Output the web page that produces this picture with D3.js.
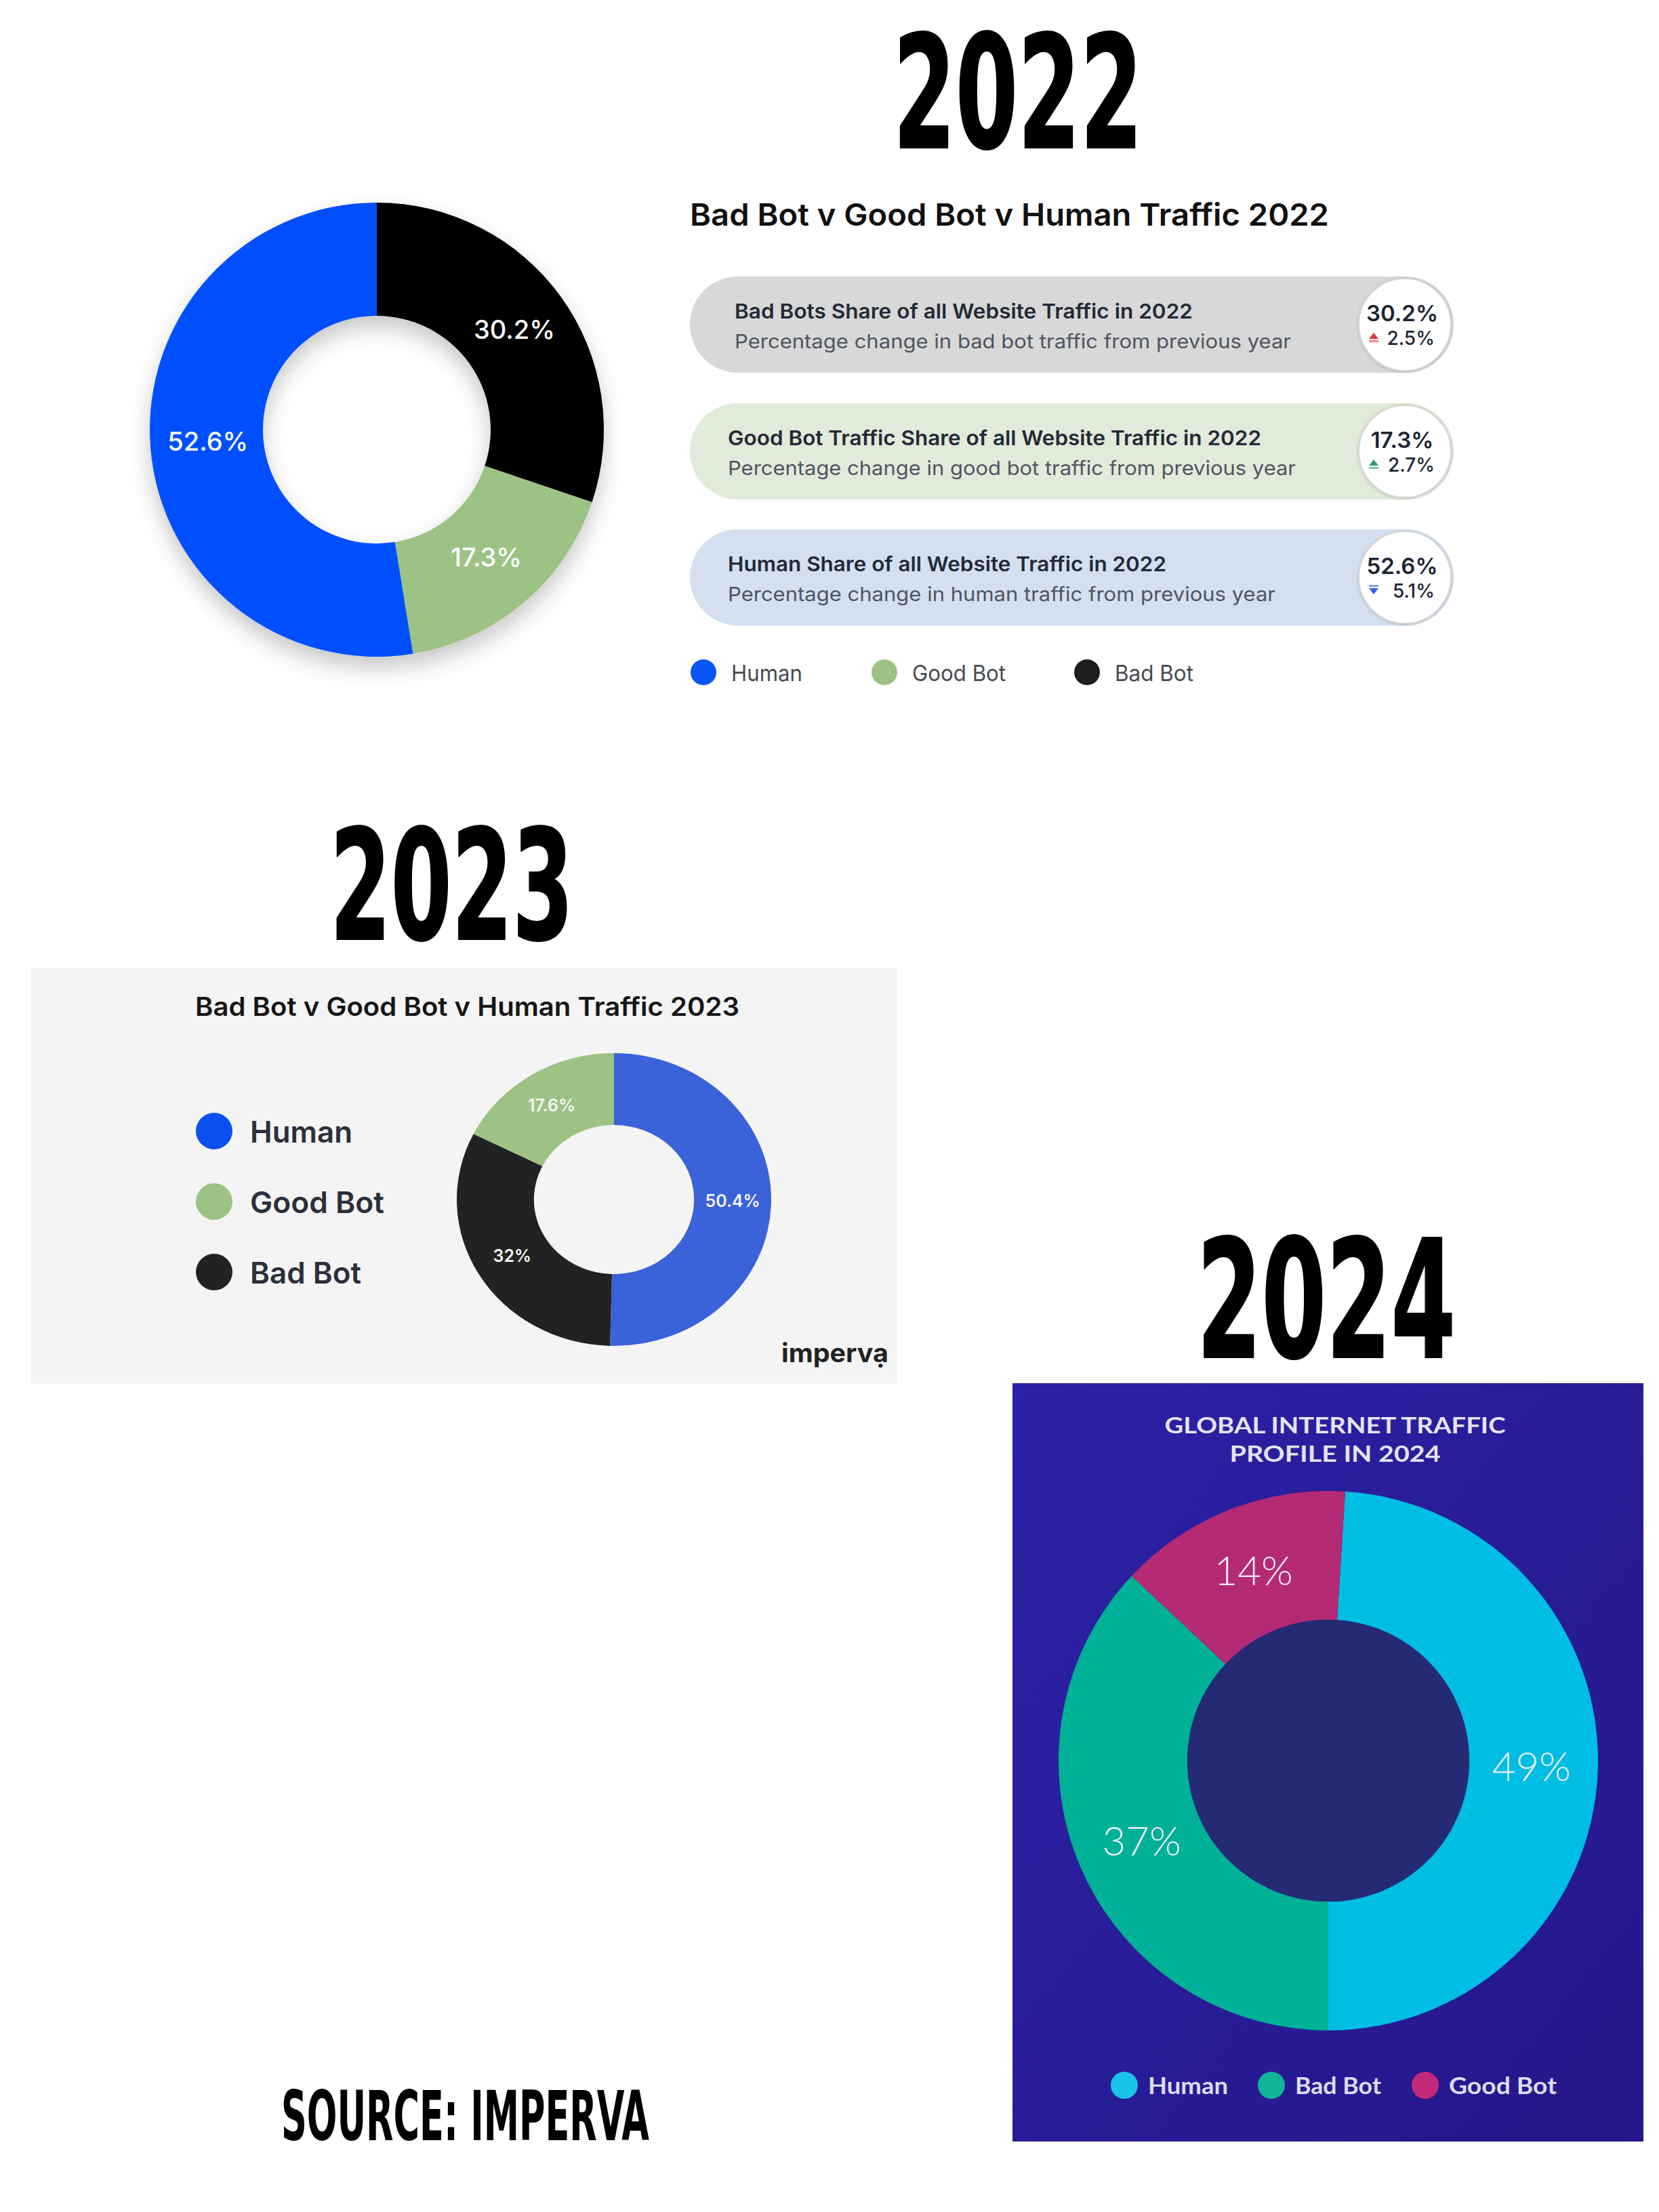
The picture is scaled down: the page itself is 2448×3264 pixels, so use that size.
<!DOCTYPE html>
<html>
<head>
<meta charset="utf-8">
<script src="https://cdn.jsdelivr.net/npm/d3@7"></script>
<style>
  html, body { margin: 0; padding: 0; background: #ffffff; }
  svg { display: block; }
</style>
</head>
<body>
<div id="chart"></div>
<script>
// ---------------- DATA ----------------
const years = ["2022", "2023", "2024"];

const categories2022 = ["Bad Bot", "Good Bot", "Human"];
const values2022 = [30.2, 17.3, 52.6];
const title2022 = "Bad Bot v Good Bot v Human Traffic 2022";
const legend2022 = ["Human", "Good Bot", "Bad Bot"];

const pillTitles2022 = [
  "Bad Bots Share of all Website Traffic in 2022",
  "Good Bot Traffic Share of all Website Traffic in 2022",
  "Human Share of all Website Traffic in 2022"
];
const pillSubtitles2022 = [
  "Percentage change in bad bot traffic from previous year",
  "Percentage change in good bot traffic from previous year",
  "Percentage change in human traffic from previous year"
];
const pillShares2022 = [30.2, 17.3, 52.6];
const pillChanges2022 = [2.5, 2.7, -5.1];

const categories2023 = ["Human", "Bad Bot", "Good Bot"];
const values2023 = [50.4, 32, 17.6];
const title2023 = "Bad Bot v Good Bot v Human Traffic 2023";
const legend2023 = ["Human", "Good Bot", "Bad Bot"];

const categories2024 = ["Human", "Bad Bot", "Good Bot"];
const values2024 = [49, 37, 14];
const title2024 = ["GLOBAL INTERNET TRAFFIC", "PROFILE IN 2024"];
const legend2024 = ["Human", "Bad Bot", "Good Bot"];

const sourceText = "SOURCE: IMPERVA";
const logoText = "impervạ";

// ---------------- STYLE ----------------
const W = 2448, H = 3264;
const colors2022 = { "Human": "#0050ff", "Good Bot": "#9dc285", "Bad Bot": "#000000" };
const legendColors2022 = { "Human": "#0a55f5", "Good Bot": "#9dc285", "Bad Bot": "#1e1e1e" };
const colors2023 = { "Human": "#3a62d9", "Good Bot": "#9dc285", "Bad Bot": "#222222" };
const legendColors2023 = { "Human": "#0a4ff0", "Good Bot": "#9dc285", "Bad Bot": "#222222" };
const colors2024 = { "Human": "#00bde3", "Bad Bot": "#00b097", "Good Bot": "#b42a74" };
const legendColors2024 = { "Human": "#1ac3e8", "Bad Bot": "#10b497", "Good Bot": "#c02a78" };
const pillFills = ["#d8d8d8", "#e1ebd9", "#d4e0f0"];
const arrowColors = { up0: "#e8363c", up1: "#2e9a73", down: "#2f62ea" };

const condensed = "'Liberation Sans Narrow', 'DejaVu Sans Condensed', 'Roboto Condensed', sans-serif";
const inter = "Inter, 'Noto Sans', Roboto, sans-serif";
const lato = "Lato, 'Open Sans', sans-serif";

const svg = d3.select("#chart").append("svg")
  .attr("width", W).attr("height", H)
  .attr("viewBox", `0 0 ${W} ${H}`);

svg.append("rect").attr("width", W).attr("height", H).attr("fill", "#ffffff");

const defs = svg.append("defs");
const shadow = defs.append("filter").attr("id", "donutShadow")
  .attr("x", "-30%").attr("y", "-30%").attr("width", "160%").attr("height", "160%");
shadow.append("feDropShadow").attr("dx", 0).attr("dy", 16).attr("stdDeviation", 16)
  .attr("flood-color", "#000").attr("flood-opacity", 0.22);

const circShadow = defs.append("filter").attr("id", "circShadow")
  .attr("x", "-30%").attr("y", "-30%").attr("width", "160%").attr("height", "160%");
circShadow.append("feDropShadow").attr("dx", 0).attr("dy", 1).attr("stdDeviation", 2)
  .attr("flood-color", "#000").attr("flood-opacity", 0.18);

const grad = defs.append("linearGradient").attr("id", "panel2024")
  .attr("x1", "0%").attr("y1", "0%").attr("x2", "100%").attr("y2", "100%");
grad.append("stop").attr("offset", "0%").attr("stop-color", "#2b22a6");
grad.append("stop").attr("offset", "100%").attr("stop-color", "#25168a");

function txt(g, o) {
  const t = g.append("text")
    .attr("x", o.x).attr("y", o.y)
    .attr("font-family", o.family || inter)
    .attr("font-size", o.size)
    .attr("font-weight", o.weight || 400)
    .attr("fill", o.fill || "#000")
    .attr("text-anchor", o.anchor || "start")
    .text(o.text);
  if (o.len) t.attr("textLength", o.len).attr("lengthAdjust", "spacingAndGlyphs");
  if (o.stroke) t.attr("stroke", o.stroke).attr("stroke-width", o.strokeWidth || 2).attr("stroke-linejoin", "round");
  if (o.dy) t.attr("dy", o.dy);
  return t;
}

function donut(parent, o) {
  const g = parent.append("g")
    .attr("transform", `translate(${o.cx},${o.cy}) scale(${o.sx || 1},1)`);
  const pie = d3.pie().sort(null).value(d => d.value)
    .startAngle(o.start || 0).endAngle((o.start || 0) + 2 * Math.PI);
  const data = o.categories.map((c, i) => ({ cat: c, value: o.values[i] }));
  const arcs = pie(data);
  const arc = d3.arc().innerRadius(o.inner).outerRadius(o.outer);
  const sliceG = g.append("g");
  if (o.filter) sliceG.attr("filter", o.filter);
  sliceG.selectAll("path").data(arcs).join("path")
    .attr("d", arc)
    .attr("fill", d => o.colors[d.data.cat]);
  if (o.holeFill) {
    g.append("circle").attr("r", o.inner).attr("fill", o.holeFill);
  }
  const labelArc = d3.arc().innerRadius(o.labelR).outerRadius(o.labelR);
  const lg = parent.append("g").attr("transform", `translate(${o.cx},${o.cy})`);
  lg.selectAll("text").data(arcs).join("text")
    .attr("x", d => labelArc.centroid(d)[0] * (o.sx || 1))
    .attr("y", d => labelArc.centroid(d)[1])
    .attr("dy", o.labelDy || "0.34em")
    .attr("text-anchor", "middle")
    .attr("font-family", o.labelFamily)
    .attr("font-size", o.labelSize)
    .attr("font-weight", o.labelWeight)
    .attr("fill", o.labelFill)
    .text(d => d.data.value + "%");
  return g;
}

// ================= 2022 =================
txt(svg, { x: 1318, y: 218, text: years[0], size: 232, weight: 700, family: condensed,
  len: 368, stroke: "#000", strokeWidth: 2 });

donut(svg, {
  cx: 556, cy: 634, outer: 335, inner: 168, categories: categories2022, values: values2022,
  colors: colors2022, filter: "url(#donutShadow)", labelR: 250, labelDy: "0.3em",
  labelFamily: inter, labelSize: 38, labelWeight: 500, labelFill: "#ffffff"
});

txt(svg, { x: 1018, y: 333, text: title2022, size: 45, weight: 600, fill: "#111111", len: 943 });

const pillX = 1018, pillRight = 2145, pillH = 142;
const pillCY = [479, 666, 852];
const pillTextX = [1084, 1074, 1074];
const pillTitleLen = [676, 787, 647];
const pillSubLen = [821, 838, 808];
const pillG = svg.append("g");
pillCY.forEach((cy, i) => {
  pillG.append("rect")
    .attr("x", pillX).attr("y", cy - pillH / 2)
    .attr("width", pillRight - pillX).attr("height", pillH)
    .attr("rx", pillH / 2).attr("ry", pillH / 2)
    .attr("fill", pillFills[i]);
  pillG.append("circle")
    .attr("cx", pillRight - 72).attr("cy", cy).attr("r", 68)
    .attr("fill", "#ffffff").attr("stroke", "#d4d4d4").attr("stroke-width", 2)
    .attr("filter", "url(#circShadow)");
  txt(pillG, { x: pillTextX[i], y: cy - 9, text: pillTitles2022[i], size: 30, weight: 600,
    fill: "#232a36", len: pillTitleLen[i] });
  txt(pillG, { x: pillTextX[i], y: cy + 35, text: pillSubtitles2022[i], size: 29, weight: 400,
    fill: "#4f5560", len: pillSubLen[i] });
  txt(pillG, { x: 2069, y: cy - 5, text: pillShares2022[i] + "%", size: 33, weight: 600,
    fill: "#1e2533", anchor: "middle" });
  const ch = pillChanges2022[i];
  txt(pillG, { x: 2117, y: cy + 30, text: Math.abs(ch) + "%", size: 28, weight: 500,
    fill: "#1e2533", anchor: "end" });
  // arrow glyph
  const ax = 2027, ay = cy + 19;
  let col = ch >= 0 ? (i === 0 ? arrowColors.up0 : arrowColors.up1) : arrowColors.down;
  if (ch >= 0) {
    pillG.append("path").attr("d", `M${ax - 7},${ay + 2} L${ax},${ay - 7} L${ax + 7},${ay + 2} Z`).attr("fill", col);
    pillG.append("rect").attr("x", ax - 7).attr("y", ay + 4).attr("width", 14).attr("height", 3)
      .attr("fill", col).attr("opacity", 0.6);
  } else {
    pillG.append("rect").attr("x", ax - 7).attr("y", ay - 8).attr("width", 14).attr("height", 3)
      .attr("fill", col).attr("opacity", 0.6);
    pillG.append("path").attr("d", `M${ax - 7},${ay - 3} L${ax},${ay + 6} L${ax + 7},${ay - 3} Z`).attr("fill", col);
  }
});

const leg22X = [1038, 1305, 1604];
const leg22Len = [105, 138, 116];
legend2022.forEach((c, i) => {
  svg.append("circle").attr("cx", leg22X[i]).attr("cy", 992).attr("r", 19)
    .attr("fill", legendColors2022[c]);
  txt(svg, { x: leg22X[i] + 41, y: 1005, text: c, size: 33, weight: 400, fill: "#474a50", len: leg22Len[i] });
});

// ================= 2023 =================
txt(svg, { x: 487, y: 1386, text: years[1], size: 226, weight: 700, family: condensed,
  len: 359, stroke: "#000", strokeWidth: 2 });

svg.append("rect").attr("x", 46).attr("y", 1428).attr("width", 1278).attr("height", 614)
  .attr("fill", "#f4f4f4");

txt(svg, { x: 288, y: 1499, text: title2023, size: 38, weight: 600, fill: "#161616", len: 803 });

const leg23Y = [1669, 1773, 1877];
const leg23Len = [151, 198, 164];
legend2023.forEach((c, i) => {
  svg.append("circle").attr("cx", 316).attr("cy", leg23Y[i]).attr("r", 27)
    .attr("fill", legendColors2023[c]);
  txt(svg, { x: 369, y: leg23Y[i] + 17, text: c, size: 44, weight: 600, fill: "#2b2f3b", len: leg23Len[i] });
});

donut(svg, {
  cx: 906, cy: 1770, sx: 1.074, outer: 216, inner: 110, categories: categories2023, values: values2023,
  colors: colors2023, labelR: 163,
  labelFamily: inter, labelSize: 25, labelWeight: 600, labelFill: "#f4f4f4"
});

txt(svg, { x: 1153, y: 2010, text: logoText, size: 38, weight: 700, fill: "#222222", len: 158 });

// ================= 2024 =================
txt(svg, { x: 1766, y: 2003, text: years[2], size: 242, weight: 700, family: condensed,
  len: 382, stroke: "#000", strokeWidth: 2 });

svg.append("rect").attr("x", 1494).attr("y", 2041).attr("width", 931).attr("height", 1119)
  .attr("fill", "url(#panel2024)");

txt(svg, { x: 1970, y: 2115, text: title2024[0], size: 32, weight: 700, family: lato,
  fill: "#e4e4f4", anchor: "middle", len: 503 });
txt(svg, { x: 1970, y: 2157, text: title2024[1], size: 32, weight: 700, family: lato,
  fill: "#e4e4f4", anchor: "middle", len: 311 });

donut(svg, {
  cx: 1960, cy: 2598, outer: 398, inner: 208, categories: categories2024, values: values2024,
  colors: colors2024, holeFill: "#252a74", start: 3.6 * Math.PI / 180, labelR: 300,
  labelFamily: lato, labelSize: 60, labelWeight: 300, labelFill: "#eeeef6"
});

const leg24X = [1659, 1876, 2103];
const leg24Len = [118, 127, 159];
legend2024.forEach((c, i) => {
  svg.append("circle").attr("cx", leg24X[i]).attr("cy", 3077).attr("r", 20)
    .attr("fill", legendColors2024[c]);
  txt(svg, { x: leg24X[i] + 35, y: 3090, text: c, size: 35, weight: 700, family: lato,
    fill: "#dcdcf0", len: leg24Len[i] });
});

// ================= SOURCE =================
txt(svg, { x: 415, y: 3158, text: sourceText, size: 102, weight: 700, family: condensed,
  len: 543 });
</script>
</body>
</html>
